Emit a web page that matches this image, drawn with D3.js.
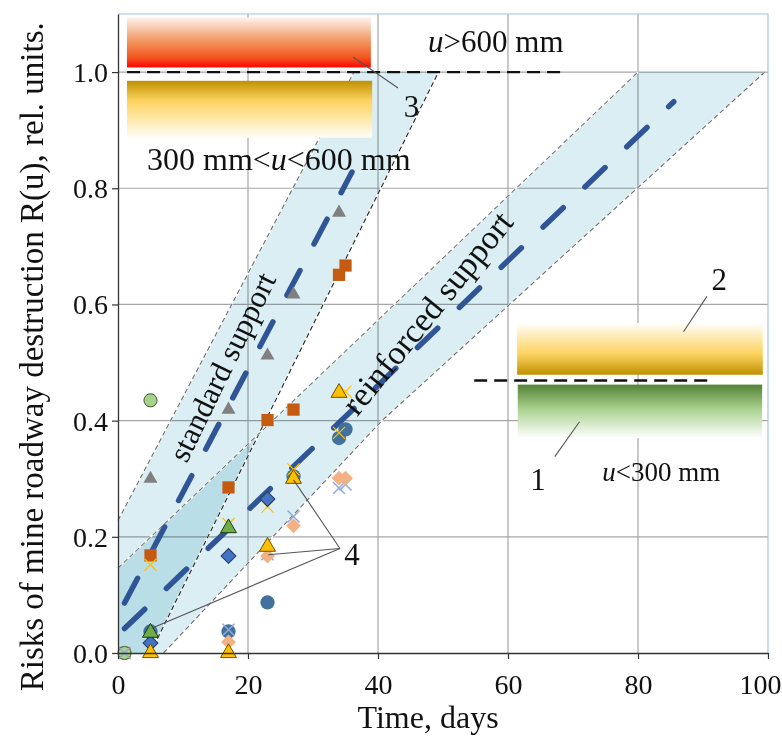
<!DOCTYPE html>
<html>
<head>
<meta charset="utf-8">
<script src="https://cdn.jsdelivr.net/npm/d3@7"></script>
<style>
  html, body { margin: 0; padding: 0; background: #fff; }
  svg text { font-family: "Liberation Serif", "Times New Roman", serif; fill: #111; }
</style>
</head>
<body>
<svg id="chart" width="782" height="738"></svg>
<script>
// axes
const xTicks = [0, 20, 40, 60, 80, 100];
const yTicks = [0, 0.2, 0.4, 0.6, 0.8, 1.0];

// measured points, [day, risk]
const grayTriangles = [[5, 0.30], [17, 0.419], [23, 0.512], [27, 0.617], [34, 0.758]];
const brownSquares = [[1, 0], [5, 0.168], [17, 0.285], [23, 0.401], [27, 0.419], [34, 0.651], [35, 0.667]];
const greenCircles = [[1, 0], [5, 0.435]];
const blueCircles = [[5, 0.037], [17, 0.037], [23, 0.087], [27, 0.304], [34, 0.37], [35, 0.385]];
const yellowCrosses = [[5, 0.152], [17, 0.222], [23, 0.252], [27, 0.316], [34, 0.379], [35, 0.45]];
const lilacCrosses = [[1, 0], [17, 0.04], [23, 0.17], [27, 0.235], [34, 0.284], [35, 0.29]];
const blueDiamonds = [[5, 0.017], [17, 0.167], [23, 0.265]];
const peachDiamonds = [[17, 0.019], [23, 0.167], [27, 0.219], [34, 0.301], [35, 0.301]];
const greenTriangles = [[5, 0.035], [17, 0.215]];
const yellowTriangles = [[5, 0], [17, 0], [23, 0.183], [27, 0.30], [34, 0.448]];

// confidence bands and trend lines
const standardBand = [[0, 0], [0, 0.228], [36.3, 1.0], [49.3, 1.0], [4.96, 0]];
const reinforcedBand = [[0, 0], [0, 0.146], [80, 1.0], [99.5, 1.0], [40.6, 0.4], [7, 0]];
const standardLeftEdge = [[0, 0.228], [36.3, 1.0]];
const standardRightEdge = [[4.96, 0], [49.3, 1.0]];
const reinforcedUpperEdge = [[0, 0.146], [80, 1.0]];
const reinforcedLowerEdge = [[7, 0], [40.6, 0.4], [99.5, 1.0]];
const standardTrend = [[1, 0.086], [36, 0.828]];
const reinforcedTrend = [[1, 0.042], [85.5, 0.949]];

// class thresholds
const upperThreshold = [[1.4, 1.0], [68.8, 1.0]];
const lowerThreshold = [[54.8, 0.469], [91.1, 0.469]];

const svg = d3.select('#chart');
const margin = { top: 14, right: 14, bottom: 85, left: 118 };
const W = 782, H = 738;

const x = d3.scaleLinear().domain([0, 100]).range([margin.left, W - margin.right]);
const y = d3.scaleLinear().domain([0, 1.1]).range([H - margin.bottom, margin.top]);

const line = d3.line().x(d => x(d[0])).y(d => y(d[1]));

// gradients for the class bars
const defs = svg.append('defs');
function grad(id, stops) {
  const g = defs.append('linearGradient').attr('id', id)
    .attr('x1', 0).attr('y1', 0).attr('x2', 0).attr('y2', 1);
  stops.forEach(s => g.append('stop').attr('offset', s[0]).attr('stop-color', s[1]));
}
grad('gRed', [[0, '#fdf3ee'], [0.45, '#f29a66'], [0.8, '#f3561f'], [1, '#ff0500']]);
grad('gGoldDown', [[0, '#bf9000'], [0.35, '#fdd35f'], [1, '#fffdf6']]);
grad('gGoldUp', [[0, '#fffefa'], [0.6, '#fdd35f'], [1, '#bf9000']]);
grad('gGreen', [[0, '#548235'], [0.45, '#a9d18e'], [1, '#ffffff']]);

// grid
svg.append('g').selectAll('line').data(yTicks.filter(d => d > 0)).enter().append('line')
  .attr('x1', x(0)).attr('x2', x(100)).attr('y1', d => y(d)).attr('y2', d => y(d))
  .attr('stroke', '#a6a6a6').attr('stroke-width', 1.2);
svg.append('g').selectAll('line').data(xTicks.filter(d => d > 0 && d < 100)).enter().append('line')
  .attr('y1', y(0)).attr('y2', y(1.1)).attr('x1', d => x(d)).attr('x2', d => x(d))
  .attr('stroke', '#a6a6a6').attr('stroke-width', 1.2);

// bands
[standardBand, reinforcedBand].forEach(b => {
  svg.append('path').attr('d', line(b) + 'Z')
    .attr('fill', '#daeef3').style('mix-blend-mode', 'multiply');
});

// band edges
function edge(pts, color) {
  svg.append('path').attr('d', line(pts)).attr('fill', 'none')
    .attr('stroke', '#fff').attr('stroke-width', 1.6);
  svg.append('path').attr('d', line(pts)).attr('fill', 'none')
    .attr('stroke', color).attr('stroke-width', 1.1).attr('stroke-dasharray', '5,3');
}
edge(standardLeftEdge, '#6e6e6e');
edge(standardRightEdge, '#222');
edge(reinforcedUpperEdge, '#7a7a7a');
edge(reinforcedLowerEdge, '#6e6e6e');

// trend lines
[standardTrend, reinforcedTrend].forEach(t => {
  svg.append('path').attr('d', line(t)).attr('fill', 'none')
    .attr('stroke', '#2f5597').attr('stroke-width', 5.5)
    .attr('stroke-linecap', 'round').attr('stroke-dasharray', '28,30');
});

// class bars
const bars = [
  { x0: 1.38, x1: 38.9, y0: 1.008, y1: 1.094, fill: 'url(#gRed)' },
  { x0: 1.38, x1: 39.1, y0: 0.887, y1: 0.985, fill: 'url(#gGoldDown)' },
  { x0: 61.4, x1: 99.2, y0: 0.479, y1: 0.568, fill: 'url(#gGoldUp)' },
  { x0: 61.5, x1: 99.1, y0: 0.370, y1: 0.462, fill: 'url(#gGreen)' }
];
svg.append('g').selectAll('rect').data(bars).enter().append('rect')
  .attr('x', d => x(d.x0)).attr('y', d => y(d.y1))
  .attr('width', d => x(d.x1) - x(d.x0)).attr('height', d => y(d.y0) - y(d.y1))
  .attr('fill', d => d.fill);

// thresholds
[upperThreshold, lowerThreshold].forEach(t => {
  svg.append('path').attr('d', line(t)).attr('fill', 'none')
    .attr('stroke', '#111').attr('stroke-width', 2.4).attr('stroke-dasharray', '13,7');
});

// frame
svg.append('path')
  .attr('d', `M${x(0)},${y(1.1)}H${x(100)}V${y(0)}`)
  .attr('fill', 'none').attr('stroke', '#9dc3e6').attr('stroke-width', 1.2);

// markers
const sym = (type, size) => d3.symbol().type(type).size(size)();
const crossPath = 'M-6,-6L6,6M-6,6L6,-6';
function markers(data, path, fill, stroke, sw, rot) {
  svg.append('g').selectAll('path').data(data).enter().append('path')
    .attr('d', path)
    .attr('transform', d => `translate(${x(d[0])},${y(d[1])})` + (rot ? ` rotate(${rot})` : ''))
    .attr('fill', fill).attr('stroke', stroke).attr('stroke-width', sw);
}
markers(grayTriangles, sym(d3.symbolTriangle, 85), '#808080', 'none', 0);
markers(brownSquares, sym(d3.symbolSquare, 150), '#c55a11', 'none', 0);
markers(greenCircles, sym(d3.symbolCircle, 135), '#a9d18e', '#3b5b2b', 1);
markers(blueCircles, sym(d3.symbolCircle, 160), '#41719c', 'none', 0);
markers(yellowCrosses, crossPath, 'none', '#ffc000', 1.2);
markers(lilacCrosses, crossPath, 'none', '#8faadc', 1.5);
markers(blueDiamonds, sym(d3.symbolSquare, 110), '#4472c4', '#1f3864', 1, 45);
markers(peachDiamonds, sym(d3.symbolSquare, 110), '#f4b183', 'none', 0, 45);
markers(greenTriangles, sym(d3.symbolTriangle, 110), '#70ad47', '#1e3a10', 1);
markers(yellowTriangles, sym(d3.symbolTriangle, 110), '#ffc000', '#6b5200', 1);

// axes
const xAxis = svg.append('g').attr('transform', `translate(0,${y(0)})`)
  .call(d3.axisBottom(x).tickValues(xTicks).tickSize(6).tickSizeOuter(0).tickFormat(d3.format('d')));
const yAxis = svg.append('g').attr('transform', `translate(${x(0)},0)`)
  .call(d3.axisLeft(y).tickValues(yTicks).tickSize(6).tickSizeOuter(0).tickFormat(d3.format('.1f')));
[xAxis, yAxis].forEach(a => {
  a.select('.domain').attr('stroke', '#333').attr('stroke-width', 1.3);
  a.selectAll('.tick line').attr('stroke', '#333').attr('stroke-width', 1.2);
  a.selectAll('text').attr('font-size', 28).attr('font-family', null);
});
xAxis.selectAll('text').attr('dy', '1.15em');
// last label sits against the right edge of the page
xAxis.selectAll('.tick text').filter(d => d === 100).attr('text-anchor', 'end').attr('x', W - 1 - x(100));
yAxis.selectAll('text').attr('x', -10).attr('dy', '0.34em');

svg.append('text').attr('x', x(47.7)).attr('y', 728)
  .attr('text-anchor', 'middle').attr('font-size', 32).text('Time, days');
svg.append('text').attr('transform', `translate(43,${y(0.51)}) rotate(-90)`)
  .attr('text-anchor', 'middle').attr('font-size', 33)
  .text('Risks of mine roadway destruction R(u), rel. units.');

// band labels
svg.append('text').attr('transform', `translate(${x(16)},${y(0.4927)}) rotate(-64)`)
  .attr('text-anchor', 'middle').attr('dy', '0.35em').attr('font-size', 31).text('standard support');
svg.append('text').attr('transform', `translate(${x(47.5)},${y(0.586)}) rotate(-51)`)
  .attr('text-anchor', 'middle').attr('dy', '0.35em').attr('font-size', 34).text('reinforced support');

// class labels
function classLabel(t, r, size, pre, italic, post) {
  const tx = svg.append('text').attr('x', x(t)).attr('y', y(r)).attr('font-size', size);
  if (pre) tx.append('tspan').text(pre);
  tx.append('tspan').attr('font-style', 'italic').text(italic);
  tx.append('tspan').text(post);
}
classLabel(47.7, 1.035, 31, '', 'u', '>600 mm');
classLabel(4.46, 0.832, 32, '300 mm<', 'u', '<600 mm');
classLabel(74.5, 0.296, 27, '', 'u', '<300 mm');

// numbered callouts
const leaders = [
  [[36.15, 1.026], [43.08, 0.9725]],
  [[67.2, 0.338], [71.0, 0.398]],
  [[90.6, 0.614], [87.0, 0.553]],
  [[34.15, 0.180], [27.0, 0.298]],
  [[34.15, 0.180], [23.1, 0.169]],
  [[34.15, 0.180], [5.2, 0.0425]]
];
leaders.forEach(l => {
  svg.append('path').attr('d', line(l)).attr('stroke', '#555').attr('stroke-width', 1.1).attr('fill', 'none');
});
const callouts = [['1', 64.6, 0.281], ['2', 92.5, 0.625], ['3', 45.15, 0.923], ['4', 36, 0.152]];
svg.append('g').selectAll('text').data(callouts).enter().append('text')
  .attr('x', d => x(d[1])).attr('y', d => y(d[2]))
  .attr('text-anchor', 'middle').attr('font-size', 31).text(d => d[0]);
</script>
</body>
</html>
